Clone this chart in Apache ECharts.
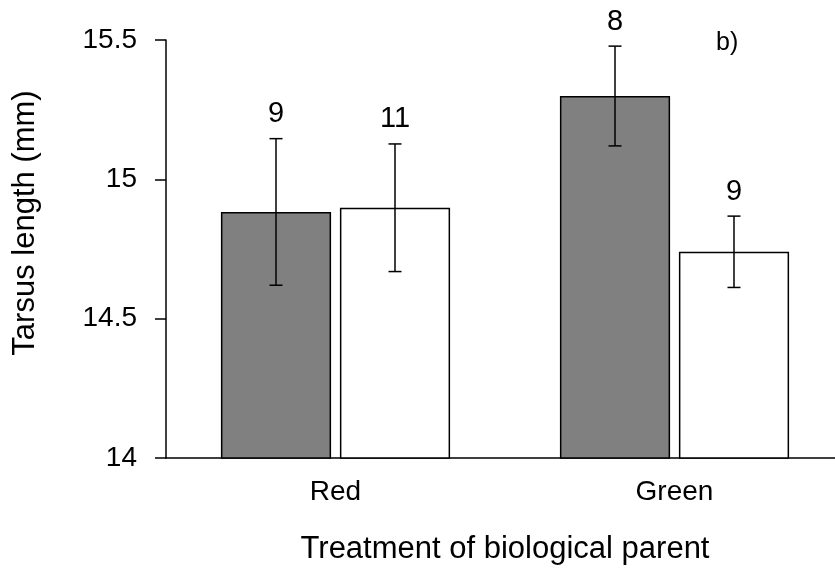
<!DOCTYPE html>
<html>
<head>
<meta charset="utf-8">
<script src="https://cdn.jsdelivr.net/npm/echarts@6/dist/echarts.min.js"></script>
<style>html,body{margin:0;padding:0;background:#fff}#c{width:835px;height:576px}</style>
</head>
<body>
<div id="c"></div>
<script>
// ---- data ----
const categories = ['Red', 'Green'];
const greyMeans = [14.883, 15.299];
const greyErr = [0.263, 0.179];
const greyN = [9, 8];
const whiteMeans = [14.898, 14.740];
const whiteErr = [0.229, 0.128];
const whiteN = [11, 9];
const yTicks = { min: 14, max: 15.5, interval: 0.5 };
const panelLabel = 'b)';
const yTitle = 'Tarsus length (mm)';
const xTitle = 'Treatment of biological parent';

// ---- style ----
const FONT = "'Liberation Sans', Arial, Helvetica, sans-serif";
const BAR_W = 0.325;   // fraction of category band
const BAR_GAP = 0.08;  // fraction of bar width

const chart = echarts.init(document.getElementById('c'), null, { renderer: 'canvas' });

function errSeries(name, means, errs, ns, side) {
  return {
    type: 'custom',
    name: name + ' error',
    z: 5,
    clip: false,
    encode: { x: 0, y: 1 },
    data: means.map((m, i) => [i, m, errs[i], ns[i]]),
    renderItem: function (params, api) {
      const band = api.size([1, 0])[0];
      const bw = band * BAR_W;
      const off = side * (bw + bw * BAR_GAP) / 2;
      const c = api.value(0), m = api.value(1), e = api.value(2);
      const x = api.coord([c, m])[0] + off;
      const yt = api.coord([c, m + e])[1];
      const yb = api.coord([c, m - e])[1];
      const cap = 6.5;
      const st = { stroke: '#000', lineWidth: 1.5 };
      return {
        type: 'group',
        children: [
          { type: 'line', shape: { x1: x, y1: yt, x2: x, y2: yb }, style: st },
          { type: 'line', shape: { x1: x - cap, y1: yt, x2: x + cap, y2: yt }, style: st },
          { type: 'line', shape: { x1: x - cap, y1: yb, x2: x + cap, y2: yb }, style: st },
          { type: 'text', x: x, y: yt - 10,
            style: { text: String(api.value(3)), fill: '#000', font: '29px ' + FONT,
                     align: 'center', verticalAlign: 'bottom' } }
        ]
      };
    }
  };
}

const option = {
  animation: false,
  backgroundColor: '#fff',
  title: {
    text: panelLabel, left: 711, top: 26,
    textStyle: { fontSize: 25, fontWeight: 'normal', color: '#000', fontFamily: FONT }
  },
  grid: { left: 166, width: 678, top: 40, bottom: 118, outerBoundsMode: 'none', containLabel: false },
  xAxis: {
    type: 'category',
    data: categories,
    axisTick: { show: false },
    axisLine: { show: true, lineStyle: { color: '#000', width: 1.5 } },
    axisLabel: { color: '#000', fontSize: 28, fontFamily: FONT, margin: 20 },
    name: xTitle,
    nameLocation: 'middle',
    nameGap: 76,
    nameTextStyle: { color: '#000', fontSize: 31, fontFamily: FONT }
  },
  yAxis: {
    type: 'value',
    min: yTicks.min, max: yTicks.max, interval: yTicks.interval,
    splitLine: { show: false },
    axisLine: { show: true, lineStyle: { color: '#000', width: 1.5 } },
    axisTick: { show: true, inside: false, length: 11, lineStyle: { color: '#000', width: 1.5 } },
    axisLabel: { color: '#000', fontSize: 28, fontFamily: FONT, margin: 29 },
    name: yTitle,
    nameLocation: 'middle',
    nameGap: 125,
    nameTextStyle: { color: '#000', fontSize: 31, fontFamily: FONT, padding: [0, 0, 0, 52] }
  },
  series: [
    {
      type: 'bar', name: 'Grey',
      data: greyMeans,
      barWidth: (BAR_W * 100) + '%',
      barGap: (BAR_GAP * 100) + '%',
      itemStyle: { color: '#808080', borderColor: '#000', borderWidth: 1.5 }
    },
    {
      type: 'bar', name: 'White',
      data: whiteMeans,
      barWidth: (BAR_W * 100) + '%',
      barGap: (BAR_GAP * 100) + '%',
      itemStyle: { color: '#fff', borderColor: '#000', borderWidth: 1.5 }
    },
    errSeries('Grey', greyMeans, greyErr, greyN, -1),
    errSeries('White', whiteMeans, whiteErr, whiteN, 1)
  ]
};
chart.setOption(option);
</script>
</body>
</html>
